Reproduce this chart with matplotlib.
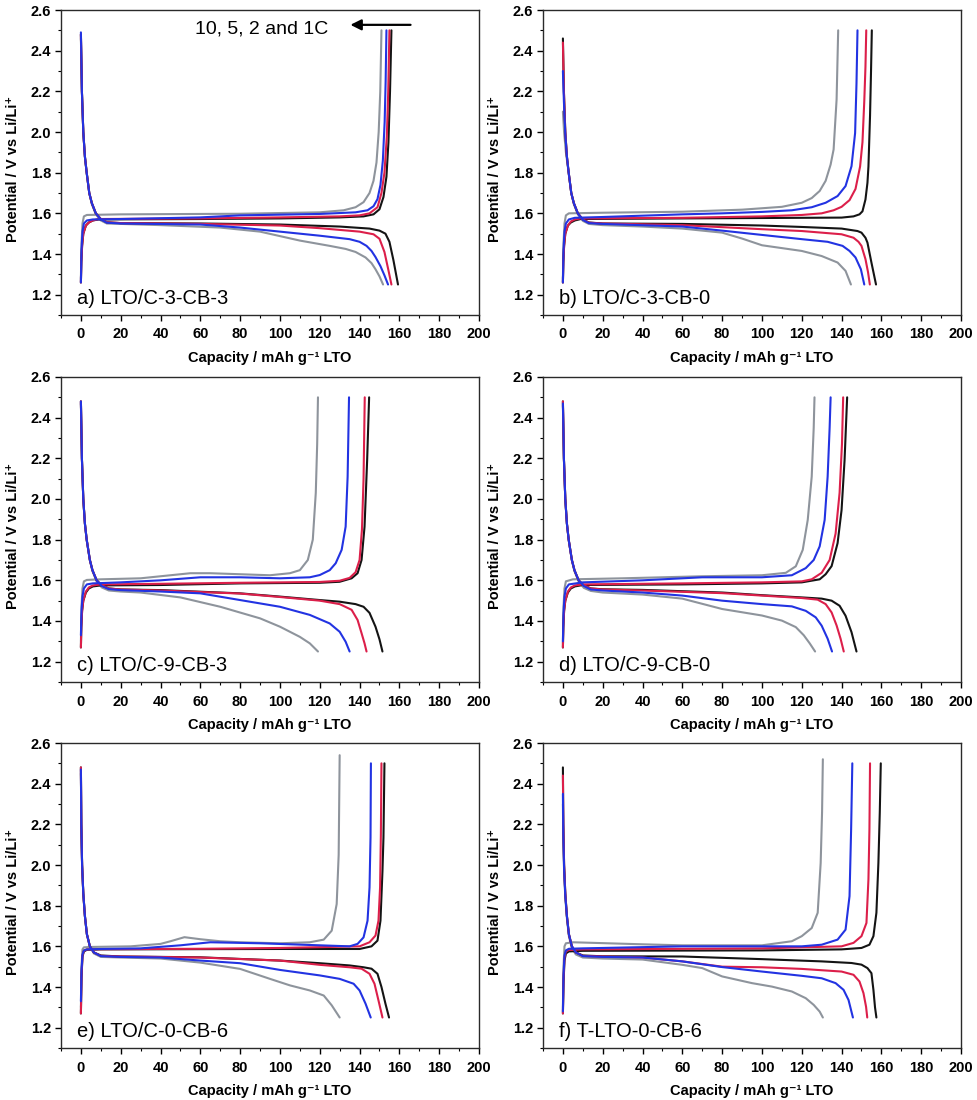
import matplotlib
matplotlib.use("Agg")
import matplotlib.pyplot as plt
from matplotlib.ticker import MultipleLocator, FormatStrFormatter

plt.rcParams['font.family'] = ['Liberation Sans', 'DejaVu Sans']

# ---------------- data (capacity mAh/g, potential V) ----------------
# Panel a) LTO/C-3-CB-3
a_dis_1C = [(0,2.48),(0.5,2.2),(1.2,2.0),(2.0,1.88),(2.9,1.8),(4.2,1.7),(5.5,1.65),(7.5,1.6),(10,1.572),(13,1.556),(20,1.552),(60,1.55),(100,1.545),(130,1.535),(145,1.525),(150,1.515),(153,1.50),(155,1.46),(157,1.37),(159.3,1.25)]
a_dis_2C = [(0,2.48),(0.5,2.2),(1.2,2.0),(2.0,1.88),(2.9,1.8),(4.2,1.7),(5.5,1.65),(7.5,1.6),(10,1.572),(13,1.556),(20,1.552),(60,1.548),(100,1.54),(120,1.527),(140,1.51),(147,1.497),(150,1.475),(152.5,1.41),(154.5,1.32),(156,1.25)]
a_dis_5C = [(0,2.49),(0.5,2.2),(1.2,2.0),(2.0,1.88),(2.9,1.8),(4.2,1.7),(5.5,1.65),(7.5,1.6),(10,1.57),(13,1.554),(20,1.55),(60,1.545),(80,1.53),(100,1.51),(120,1.49),(135,1.473),(140,1.46),(143.5,1.44),(146,1.415),(148,1.385),(150.5,1.34),(152.5,1.295),(154.3,1.25)]
a_dis_10C = [(0,2.46),(0.5,2.2),(1.2,2.0),(2.0,1.88),(2.9,1.8),(4.2,1.7),(5.5,1.645),(7.5,1.595),(10,1.565),(13,1.55),(20,1.548),(40,1.542),(70,1.53),(90,1.51),(110,1.466),(125,1.44),(133,1.425),(138,1.41),(143,1.383),(146,1.355),(148,1.325),(150,1.29),(151.8,1.25)]
a_chg_1C = [(0,1.26),(0.2,1.36),(0.6,1.44),(1.2,1.5),(2.5,1.54),(4,1.555),(6,1.565),(9,1.57),(60,1.572),(100,1.575),(130,1.58),(142,1.585),(147,1.595),(150,1.62),(152,1.68),(153.5,1.78),(154.5,1.95),(155.3,2.2),(156,2.5)]
a_chg_2C = [(0,1.26),(0.2,1.36),(0.6,1.44),(1.2,1.5),(2.5,1.54),(4,1.555),(6,1.565),(9,1.572),(60,1.575),(100,1.58),(130,1.585),(140,1.59),(145,1.60),(149,1.63),(151,1.70),(152.5,1.80),(153.7,1.98),(154.4,2.2),(155,2.5)]
a_chg_5C = [(0,1.26),(0.3,1.42),(0.8,1.51),(1.5,1.55),(3,1.565),(6,1.57),(20,1.572),(60,1.58),(80,1.59),(120,1.597),(138,1.605),(144,1.615),(147,1.635),(149,1.67),(150.5,1.74),(151.7,1.86),(152.6,2.05),(153.1,2.25),(153.5,2.5)]
a_chg_10C = [(0,1.28),(0.3,1.45),(0.8,1.55),(1.5,1.585),(3,1.592),(20,1.595),(80,1.598),(120,1.605),(132,1.615),(138,1.63),(142,1.655),(145,1.70),(147,1.76),(148.5,1.85),(149.6,2.0),(150.4,2.2),(151,2.5)]

# Panel b) LTO/C-3-CB-0
b_dis_1C = [(0,2.46),(0.5,2.2),(1.2,2.0),(2.0,1.88),(2.9,1.8),(4.2,1.7),(5.5,1.65),(7.5,1.6),(10,1.57),(13,1.555),(20,1.55),(60,1.548),(100,1.54),(120,1.533),(140,1.525),(148,1.513),(150,1.505),(152,1.48),(153,1.456),(155,1.358),(157.3,1.25)]
b_dis_2C = [(0,2.44),(0.5,2.2),(1.2,2.0),(2.0,1.88),(2.9,1.8),(4.2,1.7),(5.5,1.65),(7.5,1.6),(10,1.57),(13,1.554),(20,1.55),(60,1.542),(100,1.522),(120,1.513),(140,1.497),(146,1.48),(148.5,1.46),(150,1.44),(152,1.375),(153.3,1.31),(154.2,1.25)]
b_dis_5C = [(0,2.30),(0.5,2.15),(1.2,1.99),(2.0,1.88),(2.9,1.8),(4.2,1.7),(5.5,1.65),(7.5,1.6),(10,1.568),(13,1.552),(20,1.548),(60,1.535),(80,1.515),(97,1.497),(120,1.473),(133,1.46),(140.5,1.44),(144,1.415),(147,1.383),(149.7,1.325),(151.4,1.25)]
b_dis_10C = [(0,2.1),(0.6,2.0),(1.5,1.9),(2.9,1.8),(4.2,1.7),(5.5,1.645),(7.5,1.595),(10,1.563),(13,1.548),(20,1.542),(40,1.535),(60,1.525),(80,1.505),(90,1.476),(100,1.443),(120,1.415),(130,1.39),(138,1.358),(142,1.317),(144.7,1.25)]
b_chg_1C = [(0,1.26),(0.2,1.36),(0.6,1.44),(1.2,1.5),(2.5,1.54),(4,1.555),(6,1.565),(9,1.572),(60,1.575),(100,1.577),(140,1.579),(146,1.585),(149,1.595),(150.5,1.61),(152,1.668),(153,1.75),(153.5,1.83),(154.3,2.08),(154.8,2.3),(155.2,2.5)]
b_chg_2C = [(0,1.26),(0.2,1.36),(0.6,1.44),(1.2,1.5),(2.5,1.54),(4,1.56),(6,1.57),(9,1.575),(60,1.578),(100,1.585),(120,1.592),(130,1.60),(136,1.615),(140,1.632),(144,1.665),(147,1.72),(149.3,1.83),(150.5,1.95),(151.4,2.15),(152,2.32),(152.4,2.5)]
b_chg_5C = [(0,1.26),(0.3,1.42),(0.8,1.51),(1.5,1.55),(3,1.57),(6,1.578),(20,1.582),(60,1.595),(80,1.60),(100,1.607),(115,1.615),(125,1.63),(132,1.652),(138,1.685),(142,1.734),(145,1.832),(146.8,1.995),(147.5,2.24),(148,2.5)]
b_chg_10C = [(0,1.28),(0.3,1.45),(0.8,1.55),(1.5,1.59),(3,1.6),(20,1.603),(60,1.608),(90,1.618),(110,1.632),(120,1.652),(125,1.675),(129,1.71),(132,1.76),(134.5,1.84),(136,1.914),(137.5,2.16),(138.3,2.5)]

# Panel c) LTO/C-9-CB-3
c_dis_1C = [(0,2.48),(0.5,2.2),(1.2,2.0),(2.0,1.88),(2.9,1.8),(4.5,1.7),(5.8,1.65),(7.9,1.6),(10.5,1.575),(14,1.56),(20,1.555),(40,1.552),(80,1.536),(100,1.52),(120,1.503),(130,1.495),(138,1.483),(142,1.47),(145,1.44),(148,1.372),(150,1.31),(151.5,1.25)]
c_dis_2C = [(0,2.48),(0.5,2.2),(1.2,2.0),(2.0,1.88),(2.9,1.8),(4.5,1.7),(5.8,1.65),(7.9,1.6),(10.5,1.575),(14,1.56),(20,1.555),(40,1.55),(80,1.535),(100,1.518),(120,1.50),(130,1.483),(136,1.455),(139,1.405),(141,1.34),(142.5,1.29),(143.5,1.25)]
c_dis_5C = [(0,2.48),(0.5,2.2),(1.2,2.0),(2.0,1.88),(2.9,1.8),(4.5,1.7),(5.8,1.65),(7.9,1.6),(10.5,1.572),(14,1.557),(20,1.552),(40,1.545),(60,1.536),(80,1.503),(100,1.47),(115,1.43),(125,1.388),(130,1.347),(133,1.298),(135,1.25)]
c_dis_10C = [(0,2.47),(0.5,2.2),(1.2,2.0),(2.0,1.88),(2.9,1.8),(4.5,1.7),(5.8,1.645),(7.9,1.595),(10.5,1.565),(14,1.55),(20,1.545),(30,1.54),(50,1.516),(70,1.47),(90,1.413),(100,1.372),(110,1.322),(115,1.29),(119.1,1.25)]
c_chg_1C = [(0,1.27),(0.2,1.37),(0.6,1.45),(1.2,1.5),(2.5,1.54),(4,1.56),(6,1.57),(10,1.575),(40,1.577),(80,1.585),(120,1.588),(130,1.593),(136,1.61),(139,1.635),(141,1.70),(142.5,1.864),(143.8,2.19),(144.8,2.5)]
c_chg_2C = [(0,1.27),(0.2,1.37),(0.6,1.45),(1.2,1.5),(2.5,1.545),(4,1.565),(6,1.575),(10,1.58),(40,1.583),(80,1.588),(120,1.592),(130,1.598),(135,1.612),(138,1.64),(140,1.70),(141.2,1.85),(142,2.1),(142.6,2.5)]
c_chg_5C = [(0,1.33),(0.3,1.45),(0.8,1.52),(1.5,1.56),(3,1.58),(6,1.585),(20,1.59),(40,1.60),(60,1.615),(80,1.615),(100,1.61),(115,1.615),(120,1.626),(125,1.65),(128,1.684),(131,1.75),(133,1.864),(134,2.11),(134.7,2.5)]
c_chg_10C = [(0,1.30),(0.3,1.47),(0.8,1.56),(1.5,1.595),(3,1.602),(10,1.605),(30,1.61),(45,1.625),(55,1.635),(65,1.635),(80,1.63),(95,1.625),(105,1.635),(110,1.65),(114,1.70),(116.5,1.80),(118,2.03),(118.7,2.27),(119.1,2.5)]

# Panel d) LTO/C-9-CB-0
d_dis_1C = [(0,2.48),(0.5,2.2),(1.2,2.0),(2.0,1.88),(2.9,1.8),(4.5,1.7),(5.8,1.65),(7.9,1.6),(10.5,1.575),(14,1.56),(20,1.556),(40,1.553),(80,1.54),(100,1.527),(120,1.516),(130,1.51),(135,1.50),(139,1.475),(142,1.426),(145,1.345),(147.5,1.25)]
d_dis_2C = [(0,2.48),(0.5,2.2),(1.2,2.0),(2.0,1.88),(2.9,1.8),(4.5,1.7),(5.8,1.65),(7.9,1.6),(10.5,1.575),(14,1.56),(20,1.555),(40,1.55),(80,1.537),(100,1.525),(120,1.513),(128,1.505),(132,1.483),(135,1.442),(137.5,1.378),(139.5,1.313),(141.1,1.25)]
d_dis_5C = [(0,2.47),(0.5,2.2),(1.2,2.0),(2.0,1.88),(2.9,1.8),(4.5,1.7),(5.8,1.65),(7.9,1.6),(10.5,1.572),(14,1.555),(20,1.55),(40,1.54),(60,1.525),(80,1.50),(100,1.483),(115,1.472),(122,1.45),(127,1.418),(130,1.377),(133,1.313),(135.2,1.25)]
d_dis_10C = [(0,2.46),(0.5,2.2),(1.2,2.0),(2.0,1.88),(2.9,1.8),(4.5,1.7),(5.8,1.645),(7.9,1.595),(10.5,1.563),(14,1.548),(20,1.54),(40,1.53),(60,1.51),(80,1.459),(100,1.427),(110,1.402),(117,1.37),(121,1.33),(124,1.29),(126.7,1.25)]
d_chg_1C = [(0,1.27),(0.2,1.37),(0.6,1.45),(1.2,1.5),(2.5,1.54),(4,1.56),(6,1.57),(10,1.577),(60,1.58),(100,1.585),(120,1.59),(129,1.605),(132,1.63),(135,1.67),(138,1.783),(140,1.946),(141.5,2.19),(142.8,2.5)]
d_chg_2C = [(0,1.27),(0.2,1.37),(0.6,1.45),(1.2,1.5),(2.5,1.545),(4,1.565),(6,1.575),(10,1.58),(60,1.585),(100,1.59),(120,1.595),(125,1.605),(130,1.637),(134,1.70),(137,1.83),(139,2.03),(140.2,2.27),(140.8,2.5)]
d_chg_5C = [(0,1.30),(0.3,1.44),(0.8,1.52),(1.5,1.56),(3,1.58),(10,1.59),(40,1.60),(70,1.615),(100,1.615),(115,1.625),(122,1.66),(126,1.70),(129,1.767),(131.5,1.897),(133,2.11),(134,2.35),(134.5,2.5)]
d_chg_10C = [(0,1.29),(0.3,1.47),(0.8,1.56),(1.5,1.595),(5,1.605),(30,1.61),(70,1.62),(100,1.625),(112,1.637),(117,1.669),(120.5,1.75),(123,1.897),(125,2.11),(126,2.35),(126.4,2.5)]

# Panel e) LTO/C-0-CB-6
e_dis_1C = [(0,2.48),(0.2,2.2),(0.6,2.0),(1.2,1.86),(2,1.75),(3,1.66),(4.5,1.6),(6.5,1.57),(10,1.555),(20,1.55),(60,1.546),(80,1.538),(100,1.53),(120,1.517),(135,1.506),(142,1.497),(146,1.49),(149,1.465),(151,1.40),(153,1.318),(154.8,1.25)]
e_dis_2C = [(0,2.48),(0.2,2.2),(0.6,2.0),(1.2,1.86),(2,1.75),(3,1.66),(4.5,1.6),(6.5,1.57),(10,1.553),(20,1.55),(60,1.545),(100,1.53),(120,1.509),(135,1.497),(141,1.49),(145,1.465),(147.5,1.416),(149.5,1.334),(151.5,1.25)]
e_dis_5C = [(0,2.47),(0.2,2.2),(0.6,2.0),(1.2,1.86),(2,1.75),(3,1.66),(4.5,1.6),(6.5,1.57),(10,1.552),(20,1.548),(40,1.545),(60,1.53),(80,1.517),(100,1.484),(120,1.457),(130,1.44),(137,1.416),(140,1.383),(143,1.318),(145.6,1.25)]
e_dis_10C = [(0,2.45),(0.2,2.2),(0.6,2.0),(1.2,1.86),(2,1.75),(3,1.66),(4.5,1.6),(6.5,1.565),(10,1.548),(20,1.545),(40,1.54),(60,1.52),(80,1.489),(95,1.44),(105,1.408),(115,1.383),(122,1.358),(126,1.31),(130,1.25)]
e_chg_1C = [(0,1.27),(0.3,1.45),(0.8,1.55),(1.5,1.575),(3,1.583),(10,1.585),(100,1.587),(140,1.587),(146,1.60),(149,1.628),(150.5,1.726),(151.5,1.97),(152,2.135),(152.5,2.5)]
e_chg_2C = [(0,1.27),(0.3,1.46),(0.8,1.555),(1.5,1.578),(3,1.585),(10,1.586),(60,1.588),(100,1.592),(140,1.60),(145,1.62),(148,1.653),(149.5,1.726),(150.3,1.89),(150.7,2.15),(151,2.5)]
e_chg_5C = [(0,1.33),(0.3,1.48),(0.8,1.56),(1.5,1.58),(3,1.585),(10,1.587),(30,1.59),(50,1.605),(65,1.62),(90,1.615),(120,1.605),(135,1.60),(139,1.612),(142,1.644),(144,1.726),(145,1.89),(145.5,2.135),(145.7,2.5)]
e_chg_10C = [(0,1.30),(0.3,1.5),(0.8,1.585),(1.5,1.595),(5,1.597),(25,1.60),(40,1.612),(45,1.625),(52,1.645),(60,1.635),(70,1.625),(80,1.62),(100,1.615),(115,1.62),(122,1.633),(126,1.677),(128.5,1.808),(129.5,2.05),(130,2.54)]

# Panel f) T-LTO-0-CB-6
f_dis_1C = [(0,2.48),(0.2,2.2),(0.6,2.0),(1.2,1.86),(2,1.75),(3,1.66),(4.5,1.6),(6.5,1.57),(10,1.555),(20,1.551),(60,1.55),(100,1.537),(130,1.526),(145,1.518),(150,1.51),(153,1.493),(155,1.468),(156,1.386),(156.8,1.30),(157.5,1.25)]
f_dis_2C = [(0,2.44),(0.2,2.2),(0.6,2.0),(1.2,1.86),(2,1.75),(3,1.66),(4.5,1.6),(6.5,1.57),(10,1.553),(20,1.55),(40,1.545),(60,1.526),(80,1.50),(100,1.497),(120,1.489),(140,1.476),(146,1.46),(149,1.427),(151,1.37),(152.3,1.303),(152.9,1.25)]
f_dis_5C = [(0,2.35),(0.2,2.15),(0.6,1.98),(1.2,1.85),(2,1.75),(3,1.66),(4.5,1.6),(6.5,1.57),(10,1.552),(20,1.548),(40,1.545),(60,1.526),(80,1.498),(100,1.476),(120,1.455),(130,1.443),(137,1.419),(141,1.386),(143.5,1.336),(145.7,1.25)]
f_dis_10C = [(0,2.3),(0.2,2.12),(0.6,1.97),(1.2,1.84),(2,1.74),(3,1.65),(4.5,1.59),(6.5,1.56),(10,1.545),(20,1.54),(40,1.535),(60,1.509),(70,1.493),(80,1.452),(95,1.419),(105,1.402),(115,1.378),(122,1.345),(126,1.312),(129,1.279),(130.6,1.25)]
f_chg_1C = [(0,1.27),(0.3,1.42),(0.8,1.53),(1.5,1.565),(3,1.575),(10,1.578),(100,1.58),(140,1.585),(150,1.592),(154,1.608),(156,1.65),(157.5,1.765),(158.5,2.01),(159.2,2.26),(159.7,2.5)]
f_chg_2C = [(0,1.27),(0.3,1.44),(0.8,1.545),(1.5,1.575),(3,1.582),(10,1.585),(100,1.59),(140,1.60),(146,1.617),(150,1.65),(152.5,1.715),(153.5,1.93),(154,2.177),(154.3,2.5)]
f_chg_5C = [(0,1.28),(0.3,1.46),(0.8,1.555),(1.5,1.58),(3,1.588),(10,1.59),(60,1.60),(120,1.60),(130,1.608),(138,1.633),(142,1.682),(144,1.847),(144.8,2.177),(145.4,2.5)]
f_chg_10C = [(0,1.30),(0.3,1.5),(0.8,1.6),(1.5,1.615),(5,1.62),(40,1.61),(60,1.605),(100,1.605),(115,1.625),(120,1.65),(125,1.69),(128,1.765),(129.5,2.01),(130.2,2.26),(130.6,2.52)]

panel_labels = ["a) LTO/C-3-CB-3", "b) LTO/C-3-CB-0", "c) LTO/C-9-CB-3",
                "d) LTO/C-9-CB-0", "e) LTO/C-0-CB-6", "f) T-LTO-0-CB-6"]
rates = ["10C", "1C", "2C", "5C"]          # drawing order
rate_colors = {"1C": "#141414", "2C": "#dc1f4a", "5C": "#2233e2", "10C": "#8e949c"}
x_ticks = [0, 20, 40, 60, 80, 100, 120, 140, 160, 180, 200]
y_ticks = [1.2, 1.4, 1.6, 1.8, 2.0, 2.2, 2.4, 2.6]
arrow_text = "10, 5, 2 and 1C"

panels = {
    "a": {"1C": (a_dis_1C, a_chg_1C), "2C": (a_dis_2C, a_chg_2C), "5C": (a_dis_5C, a_chg_5C), "10C": (a_dis_10C, a_chg_10C)},
    "b": {"1C": (b_dis_1C, b_chg_1C), "2C": (b_dis_2C, b_chg_2C), "5C": (b_dis_5C, b_chg_5C), "10C": (b_dis_10C, b_chg_10C)},
    "c": {"1C": (c_dis_1C, c_chg_1C), "2C": (c_dis_2C, c_chg_2C), "5C": (c_dis_5C, c_chg_5C), "10C": (c_dis_10C, c_chg_10C)},
    "d": {"1C": (d_dis_1C, d_chg_1C), "2C": (d_dis_2C, d_chg_2C), "5C": (d_dis_5C, d_chg_5C), "10C": (d_dis_10C, d_chg_10C)},
    "e": {"1C": (e_dis_1C, e_chg_1C), "2C": (e_dis_2C, e_chg_2C), "5C": (e_dis_5C, e_chg_5C), "10C": (e_dis_10C, e_chg_10C)},
    "f": {"1C": (f_dis_1C, f_chg_1C), "2C": (f_dis_2C, f_chg_2C), "5C": (f_dis_5C, f_chg_5C), "10C": (f_dis_10C, f_chg_10C)},
}

# ---------------- layout ----------------
W, H = 978, 1100
fig = plt.figure(figsize=(W / 100, H / 100), dpi=100)
col_left = [61, 543]
row_top = [10, 377, 743]
ax_w, ax_h = 418, 305

keys = ["a", "b", "c", "d", "e", "f"]
for i, key in enumerate(keys):
    r, c = divmod(i, 2)
    l = col_left[c]
    t = row_top[r]
    ax = fig.add_axes([l / W, 1 - (t + ax_h) / H, ax_w / W, ax_h / H])
    for rate in rates:
        dis, chg = panels[key][rate]
        for curve in (dis, chg):
            xs = [p[0] for p in curve]
            ys = [p[1] for p in curve]
            ax.plot(xs, ys, color=rate_colors[rate], lw=1.5, solid_joinstyle='round', solid_capstyle='round')
    ax.set_xlim(-10, 200)
    ax.set_ylim(1.1, 2.6)
    ax.set_xticks(x_ticks)
    ax.set_yticks(y_ticks)
    ax.xaxis.set_minor_locator(MultipleLocator(10))
    ax.yaxis.set_minor_locator(MultipleLocator(0.1))
    ax.yaxis.set_major_formatter(FormatStrFormatter('%.1f'))
    ax.tick_params(which='major', direction='out', length=4, width=1.0, labelsize=10.5, pad=3,
                   top=False, right=False)
    ax.tick_params(which='minor', direction='out', length=2.5, width=0.8, top=False, right=False)
    ax.tick_params(axis='x', which='major', pad=5)
    for lab in ax.get_xticklabels() + ax.get_yticklabels():
        lab.set_fontweight('bold')
    for sp in ax.spines.values():
        sp.set_linewidth(1.0)
        sp.set_color('#2a2a2a')
    ax.set_xlabel("Capacity / mAh g\u207b\u00b9 LTO", fontsize=10.5, fontweight='bold')
    ax.set_ylabel("Potential / V vs Li/Li\u207a", fontsize=10.5, fontweight='bold')
    ax.xaxis.set_label_coords(0.5, -0.118)
    ax.yaxis.set_label_coords(-0.097, 0.48)
    ax.text(0.039, 0.036, panel_labels[i], transform=ax.transAxes, fontsize=14.5,
            ha='left', va='baseline')
    if key == "a":
        ax.text(0.32, 0.924, arrow_text, transform=ax.transAxes, fontsize=14,
                ha='left', va='baseline')
        ax.annotate('', xy=(134, 2.527), xytext=(167, 2.527),
                    arrowprops=dict(arrowstyle='-|>', color='k', lw=1.6, mutation_scale=16))

fig.savefig("out.png", dpi=100)
